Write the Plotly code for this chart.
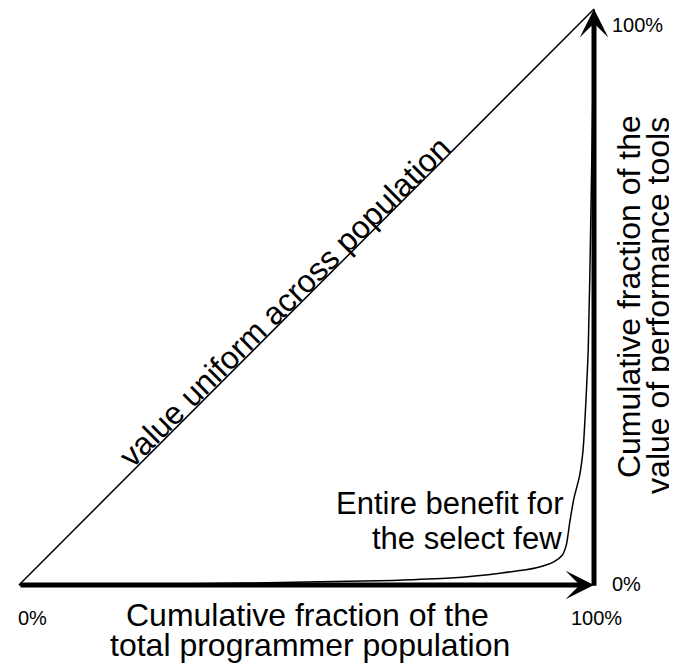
import plotly.graph_objects as go

# Lorenz-like curve: cumulative fraction of population vs cumulative fraction of value
pop_frac = [0, 0.3, 0.5, 0.65, 0.75, 0.84, 0.9, 0.93, 0.945, 0.952, 0.958, 0.965, 0.975, 0.981, 0.99, 0.995, 0.998, 1.0]
value_frac = [0, 0.002, 0.005, 0.008, 0.012, 0.021, 0.03, 0.04, 0.052, 0.07, 0.11, 0.15, 0.19, 0.235, 0.41, 0.67, 0.85, 1.0]

uniform_x = [0, 1]
uniform_y = [0, 1]

tick_labels = ["0%", "100%"]

FONT = "Liberation Sans, Arial, sans-serif"

# page body has an 8px margin; figure is sized so it fits the window
W, H = 669, 663
X0, Y0 = 11, 577      # pixel position of data origin inside the figure
SX, SY = 575, 576     # pixels per data unit

fig = go.Figure()
fig.add_trace(go.Scatter(x=uniform_x, y=uniform_y, mode="lines",
                         line=dict(color="black", width=1.5), hoverinfo="skip"))
fig.add_trace(go.Scatter(x=pop_frac, y=value_frac, mode="lines",
                         line=dict(color="black", width=1.5, shape="spline", smoothing=0.6),
                         hoverinfo="skip"))

ann = []
# axis arrows
ann.append(dict(x=1.0, y=0, ax=0, ay=0, xref="x", yref="y", axref="x", ayref="y",
                showarrow=True, arrowhead=3, arrowwidth=5, arrowsize=0.95,
                arrowcolor="black", text=""))
ann.append(dict(x=1.0, y=1.0, ax=1.0, ay=-0.004, xref="x", yref="y", axref="x", ayref="y",
                showarrow=True, arrowhead=3, arrowwidth=5, arrowsize=0.95,
                arrowcolor="black", text=""))

def txt(x, y, s, size, **kw):
    d = dict(x=x, y=y, xref="x", yref="y", text=s, showarrow=False,
             font=dict(family=FONT, size=size, color="black"))
    d.update(kw)
    ann.append(d)

# tick labels
txt(0.024, -0.057, tick_labels[0], 20)
txt(1.005, -0.057, tick_labels[1], 20)
txt(1.056, 0.002, tick_labels[0], 20)
txt(1.075, 0.972, tick_labels[1], 20)

# axis titles
txt(0.501, -0.052, "Cumulative fraction of the", 32)
txt(0.506, -0.105, "total programmer population", 32)
txt(1.061, 0.5, "Cumulative fraction of the", 32, textangle=-90)
txt(1.111, 0.486, "value of performance tools", 32, textangle=-90)

# annotations in plot
txt(0.949, 0.142, "Entire benefit for", 31, xanchor="right")
txt(0.947, 0.080, "the select few", 31, xanchor="right")
txt(0.462, 0.491, "value uniform across population", 32, textangle=-44.9)

fig.update_layout(
    width=W, height=H,
    margin=dict(l=0, r=0, t=0, b=0),
    paper_bgcolor="white", plot_bgcolor="white",
    showlegend=False,
    annotations=ann,
    xaxis=dict(range=[-X0/SX, (W-X0)/SX], visible=False, fixedrange=True),
    yaxis=dict(range=[(Y0-H)/SY, Y0/SY], visible=False, fixedrange=True),
)

fig.write_html("out.html")
